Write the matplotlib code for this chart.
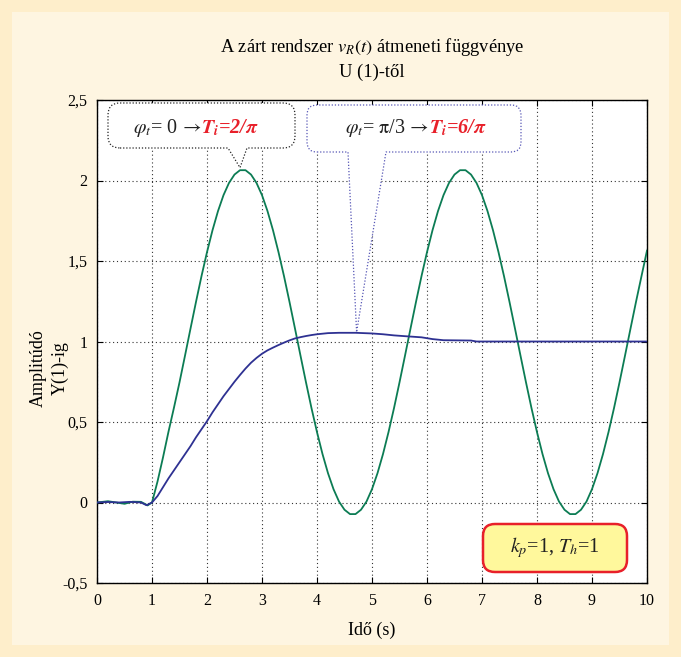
import numpy as np
import matplotlib.pyplot as plt
from matplotlib.path import Path
from matplotlib.patches import PathPatch, FancyBboxPatch, Rectangle
from matplotlib.transforms import IdentityTransform
from matplotlib.text import Annotation

plt.rcParams['font.family'] = ['Liberation Serif', 'DejaVu Serif']
plt.rcParams['mathtext.fontset'] = 'stix'

W, H = 681, 657

# ---------- data ----------
# phi_t = 0 -> Ti = 2/pi (green, oscillating)
t_green = [0.0, 0.2, 0.35, 0.5, 0.65, 0.8, 0.92, 1.0,
           1.1, 1.2, 1.3, 1.4, 1.5, 1.6, 1.7, 1.8, 1.9, 2.0,
           2.1, 2.2, 2.3, 2.4, 2.5, 2.6, 2.7, 2.8, 2.9, 3.0,
           3.1, 3.2, 3.3, 3.4, 3.5, 3.6, 3.7, 3.8, 3.9, 4.0,
           4.1, 4.2, 4.3, 4.4, 4.5, 4.6, 4.7, 4.8, 4.9, 5.0,
           5.1, 5.2, 5.3, 5.4, 5.5, 5.6, 5.7, 5.8, 5.9, 6.0,
           6.1, 6.2, 6.3, 6.4, 6.5, 6.6, 6.7, 6.8, 6.9, 7.0,
           7.1, 7.2, 7.3, 7.4, 7.5, 7.6, 7.7, 7.8, 7.9, 8.0,
           8.1, 8.2, 8.3, 8.4, 8.5, 8.6, 8.7, 8.8, 8.9, 9.0,
           9.1, 9.2, 9.3, 9.4, 9.5, 9.6, 9.7, 9.8, 9.9, 10.0]
y_green = [0.0, 0.008, 0.0, -0.008, 0.005, 0.004, -0.018, 0.0,
           0.13, 0.28, 0.44, 0.59, 0.746, 0.912, 1.080, 1.246, 1.406, 1.555,
           1.691, 1.810, 1.909, 1.985, 2.037, 2.064, 2.064, 2.037, 1.985, 1.909,
           1.810, 1.691, 1.555, 1.406, 1.246, 1.080, 0.912, 0.746, 0.586, 0.437,
           0.301, 0.182, 0.083, 0.006, -0.045, -0.072, -0.072, -0.045, 0.006, 0.083,
           0.182, 0.301, 0.437, 0.586, 0.746, 0.912, 1.080, 1.246, 1.406, 1.555,
           1.691, 1.810, 1.909, 1.985, 2.037, 2.064, 2.064, 2.037, 1.985, 1.909,
           1.810, 1.691, 1.555, 1.406, 1.246, 1.080, 0.912, 0.746, 0.586, 0.437,
           0.301, 0.182, 0.083, 0.006, -0.045, -0.072, -0.072, -0.045, 0.006, 0.083,
           0.182, 0.301, 0.437, 0.586, 0.746, 0.912, 1.080, 1.246, 1.406, 1.565]

# phi_t = pi/3 -> Ti = 6/pi (blue, settling)
t_blue = [0.0, 0.2, 0.4, 0.6, 0.8, 0.9, 1.0, 1.1, 1.2, 1.3, 1.4, 1.5, 1.6, 1.7,
          1.8, 1.9, 2.0, 2.1, 2.2, 2.3, 2.4, 2.5, 2.6, 2.7, 2.8, 2.9, 3.0, 3.1,
          3.2, 3.3, 3.4, 3.5, 3.6, 3.7, 3.8, 3.9, 4.0, 4.2, 4.4, 4.7, 5.0, 5.2,
          5.4, 5.6, 5.9, 6.1, 6.3, 6.8, 6.9, 10.0]
y_blue = [0.0, 0.003, 0.0, 0.004, 0.0, -0.017, 0.0, 0.04, 0.095, 0.15, 0.2, 0.25,
          0.3, 0.35, 0.405, 0.455, 0.505, 0.56, 0.61, 0.66, 0.705, 0.75, 0.792, 0.832,
          0.868, 0.898, 0.924, 0.945, 0.962, 0.978, 0.993, 1.007, 1.019, 1.027, 1.034,
          1.04, 1.045, 1.052, 1.054, 1.054, 1.05, 1.045, 1.038, 1.033, 1.026, 1.015,
          1.008, 1.006, 1.0, 1.0]

x_ticks = [0, 1, 2, 3, 4, 5, 6, 7, 8, 9, 10]
y_ticks = [-0.5, 0, 0.5, 1, 1.5, 2, 2.5]
y_ticklabels = [f"{v:g}".replace('.', ',') for v in y_ticks]

GREEN = '#0C7C54'
BLUE = '#2E3192'
RED = '#E8202A'
INK = '#222222'


def bubble(x0, y0, x1, y1, r, base_l, base_r, tip):
    """rounded box (pixel coords, y down) with a pointer on the bottom edge"""
    bx0, by0 = x0, H - y1
    bx1, by1 = x1, H - y0
    verts = [(bx0 + r, by0), (base_l, by0), tuple(tip), (base_r, by0),
             (bx1 - r, by0), (bx1, by0), (bx1, by0 + r),
             (bx1, by1 - r), (bx1, by1), (bx1 - r, by1),
             (bx0 + r, by1), (bx0, by1), (bx0, by1 - r),
             (bx0, by0 + r), (bx0, by0), (bx0 + r, by0), (bx0 + r, by0)]
    codes = [Path.MOVETO, Path.LINETO, Path.LINETO, Path.LINETO,
             Path.LINETO, Path.CURVE3, Path.CURVE3,
             Path.LINETO, Path.CURVE3, Path.CURVE3,
             Path.LINETO, Path.CURVE3, Path.CURVE3,
             Path.LINETO, Path.CURVE3, Path.CURVE3, Path.CLOSEPOLY]
    return Path(verts, codes)


fig = plt.figure(figsize=(W / 100, H / 100), dpi=100)
fig.patch.set_facecolor('#FEEECB')
fig.add_artist(Rectangle((12 / W, 12 / H), (W - 24) / W, (H - 24) / H,
                         transform=fig.transFigure, facecolor='#FEF5E1',
                         edgecolor='none', zorder=-10))

ax = fig.add_axes([97 / W, (H - 583) / H, 550 / W, 483 / H])
ax.set_facecolor('white')

ax.plot(t_green, y_green, color=GREEN, lw=1.3, zorder=3)
ax.plot(t_blue, y_blue, color=BLUE, lw=1.3, zorder=3)

ax.set_xlim(0, 10)
ax.set_ylim(-0.5, 2.5)
ax.set_xticks(x_ticks)
ax.set_xticklabels([str(v) for v in x_ticks])
ax.set_yticks(y_ticks)
ax.set_yticklabels(y_ticklabels)
ax.tick_params(direction='in', length=4, width=0.8, top=True, right=True,
               labelsize=11.5, pad=7)
ax.grid(True, color='#333333', lw=0.8, linestyle=(0, (1, 2.5)))
for s in ax.spines.values():
    s.set_linewidth(1.0)

# ---------- titles / labels ----------
fig.text(372 / W, 1 - 47 / H, r"A zárt rendszer $v_R(t)$ átmeneti függvénye",
         ha='center', va='center', fontsize=13.3)
fig.text(372 / W, 1 - 72 / H, "U (1)-től", ha='center', va='center', fontsize=13.3)
fig.text(372 / W, 1 - 630 / H, "Idő (s)", ha='center', va='center', fontsize=13)
fig.text(49 / W, 1 - 368 / H, "Amplitúdó\nY(1)-ig", rotation=90, ha='center',
         va='center', multialignment='center', fontsize=13, linespacing=1.35)

# ---------- callouts ----------
tip1 = ax.transData.transform((2.6, 2.08))
tip2 = ax.transData.transform((4.72, 1.058))

p1 = PathPatch(bubble(108, 103, 295, 148, 12, 228, 247, tip1),
               transform=IdentityTransform(), facecolor='white',
               edgecolor=INK, lw=0.9, linestyle=(0, (1, 1.5)), zorder=5,
               clip_on=False)
p2 = PathPatch(bubble(307, 105, 521, 152, 10, 348, 386, tip2),
               transform=IdentityTransform(), facecolor='white',
               edgecolor='#5555B5', lw=0.9, linestyle=(0, (1, 1.5)), zorder=5,
               clip_on=False)
fig.add_artist(p1)
fig.add_artist(p2)


def two_tone(x, y, black, red, size=14.5):
    t = fig.text(x / W, 1 - y / H, black, ha='left', va='center',
                 fontsize=size, color=INK, zorder=6)
    ann = Annotation(red, xy=(1, 0.5), xycoords=t, ha='left', va='center',
                     fontsize=size, color=RED, fontweight='bold',
                     fontstyle='italic', zorder=7, annotation_clip=False)
    fig.add_artist(ann)


two_tone(133, 128, r"$\varphi_t$= 0$\,\rightarrow$",
         r"$\mathbfit{T_i}$=2/$\mathbfit{\pi}$")
two_tone(345, 128, r"$\varphi_t$= $\mathrm{\pi}$/3$\,\rightarrow$",
         r"$\mathbfit{T_i}$=6/$\mathbfit{\pi}$")

# ---------- parameter box ----------
b3 = FancyBboxPatch((483, H - 572), 144, 48,
                    boxstyle='round,pad=0,rounding_size=12',
                    transform=IdentityTransform(), facecolor='#FFF89C',
                    edgecolor=RED, lw=1.8, zorder=5, clip_on=False)
fig.add_artist(b3)
fig.text(555 / W, 1 - 548 / H, r"$k_p$=1, $T_h$=1",
         ha='center', va='center', fontsize=14.5, color=INK, zorder=6)

fig.savefig('out.png', dpi=100, facecolor=fig.get_facecolor())
